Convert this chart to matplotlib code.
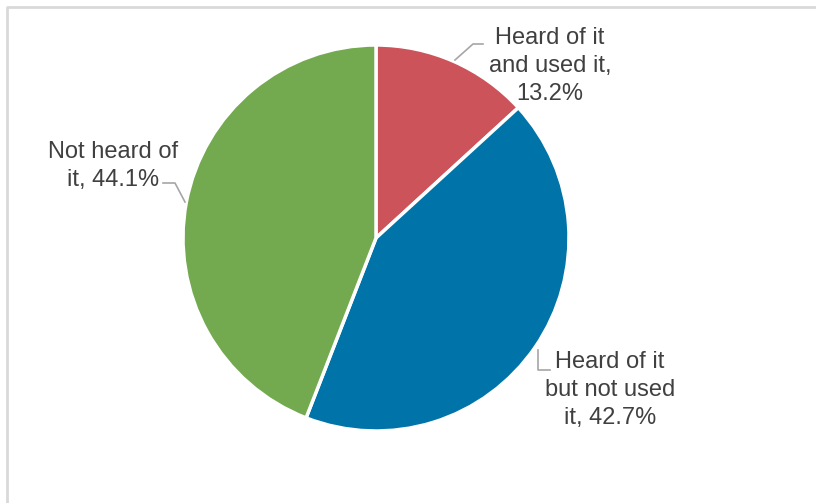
import matplotlib
matplotlib.use("Agg")
import matplotlib.pyplot as plt

# survey answers, clockwise from 12 o'clock
labels = ["Heard of it\nand used it,\n13.2%",
          "Heard of it\nbut not used\nit, 42.7%",
          "Not heard of\nit, 44.1%"]
shares = [13.2, 42.7, 44.1]
colors = ["#CD535B", "#0074A8", "#73A94F"]

W, H = 816, 503
plt.rcParams['font.family'] = ['Liberation Sans', 'DejaVu Sans']

fig = plt.figure(figsize=(W / 100, H / 100), dpi=100)
ax = fig.add_axes([0, 0, 1, 1])


def Y(y):
    # picture rows -> data y
    return H - y


ax.pie(shares, colors=colors, startangle=90, counterclock=False,
       center=(376, Y(238)), radius=193, frame=True,
       wedgeprops=dict(edgecolor='white', linewidth=2.5))
ax.set_xlim(0, W)
ax.set_ylim(0, H)
ax.set_aspect('equal')
ax.axis('off')

# outer frame (only left and top visible)
ax.plot([7, 7, W + 5], [Y(H + 5), Y(7), Y(7)], color='#d9d9d9', lw=2, clip_on=False)

txt = dict(fontsize=17, color='#404040', ha='center', va='center', linespacing=1.38)
ax.text(550, Y(66), labels[0], **txt)
ax.text(610, Y(390), labels[1], **txt)
ax.text(113, Y(166), labels[2], **txt)

lead = dict(color='#a6a6a6', lw=1.2)
ax.plot([455, 473, 483], [Y(60), Y(44), Y(44)], **lead)
ax.plot([538, 538, 550], [Y(350), Y(370), Y(370)], **lead)
ax.plot([163, 175, 185], [Y(183), Y(183), Y(202)], **lead)

fig.savefig("out.png", dpi=100)
